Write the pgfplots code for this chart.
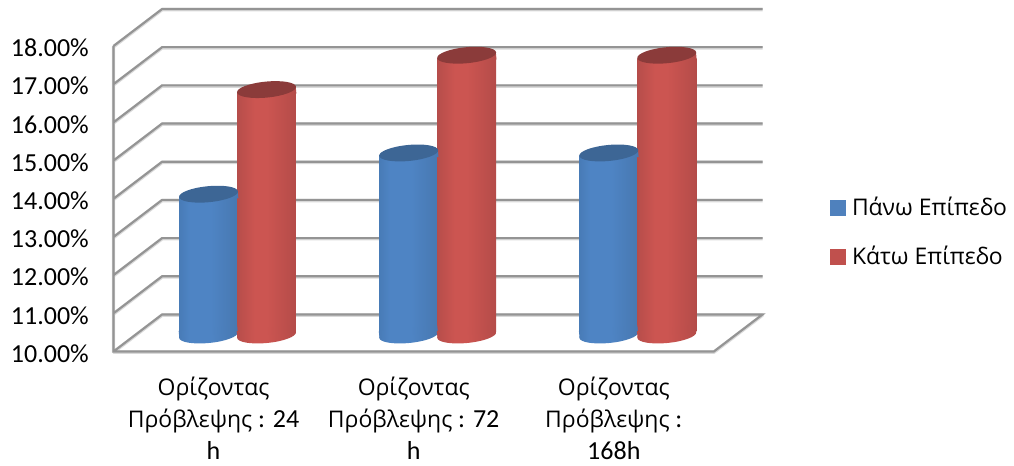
\documentclass[border=0pt]{standalone}
\usepackage{fontspec}
\setmainfont{Carlito}
\newfontfamily\grk{Open Sans}
\newcommand\gr[1]{{\grk\fontsize{17.2pt}{24pt}\selectfont #1}}
\usepackage{pgfplots}
\usepackage{pgfplotstable}
\usetikzlibrary{shapes.geometric}
\pgfplotsset{compat=1.18}

\definecolor{legblue}{HTML}{4F81BD}
\definecolor{legred}{HTML}{C0504D}
\definecolor{capblue}{HTML}{3D6695}
\definecolor{capred}{HTML}{8B3B3A}
\definecolor{b0}{HTML}{2B4F7B}
\definecolor{b1}{HTML}{4678B2}
\definecolor{b2}{HTML}{4E84C4}
\definecolor{b3}{HTML}{4675AC}
\definecolor{b4}{HTML}{2F5482}
\definecolor{r0}{HTML}{672827}
\definecolor{r1}{HTML}{863836}
\definecolor{r2}{HTML}{B84E4B}
\definecolor{r3}{HTML}{CC5551}
\definecolor{r4}{HTML}{B54C49}
\definecolor{r5}{HTML}{8F3F3D}

% Horizontal shadings that give the columns their round look
\pgfdeclarehorizontalshading{cylblue}{100bp}{
  color(0bp)=(b0); color(22bp)=(b1); color(34bp)=(b2); color(52bp)=(b2);
  color(80bp)=(b3); color(100bp)=(b4)}
\pgfdeclarehorizontalshading{cylred}{100bp}{
  color(0bp)=(r0); color(9bp)=(r1); color(26bp)=(r2); color(40bp)=(r3); color(50bp)=(r3);
  color(74bp)=(r4); color(90bp)=(r5); color(100bp)=(r0)}

\pgfplotsset{
  % one column body, shaded on its own
  column/.style n args={2}{ybar,bar width=44.2pt,bar shift=#2,draw=none,shade,shading=#1,forget plot},
  % tilted ellipse at a column's foot
  foot/.style n args={2}{only marks,mark=none,forget plot,nodes near coords={},
    every node near coord/.style={xshift=#2,yshift=-2.25pt,rotate=5.5,anchor=center,
      ellipse,inner sep=0pt,minimum width=44.4pt,minimum height=12pt,shade,shading=#1}},
  % strips that follow the tilt at both ends of a column
  footrim/.style n args={2}{only marks,mark=none,forget plot,nodes near coords={},
    every node near coord/.style={xshift=#2,yshift=-2.25pt,rotate=5.5,anchor=south,
      rectangle,inner sep=0pt,minimum width=44pt,minimum height=5pt,shade,shading=#1}},
  rim/.style n args={2}{only marks,mark=none,forget plot,nodes near coords={},
    every node near coord/.style={xshift=#2,yshift=2.25pt,rotate=5.5,anchor=north,
      rectangle,inner sep=0pt,minimum width=44pt,minimum height=5pt,shade,shading=#1}},
  % dark lid of a column
  lid/.style n args={2}{only marks,mark=none,forget plot,nodes near coords={},
    every node near coord/.style={xshift=#2,yshift=2.25pt,rotate=5.5,anchor=center,
      ellipse,inner sep=0pt,minimum width=44.4pt,minimum height=12pt,fill=#1}},
}

% Wall, side and floor lines of the box
\pgfplotstableread{
x y
-0.5 18
-0.5 10
2.5 10
2.743 10.97
-0.257 10.97
-0.5 10
nan nan
-0.5 11
-0.257 11.97
2.743 11.97
nan nan
-0.5 12
-0.257 12.97
2.743 12.97
nan nan
-0.5 13
-0.257 13.97
2.743 13.97
nan nan
-0.5 14
-0.257 14.97
2.743 14.97
nan nan
-0.5 15
-0.257 15.97
2.743 15.97
nan nan
-0.5 16
-0.257 16.97
2.743 16.97
nan nan
-0.5 17
-0.257 17.97
2.743 17.97
nan nan
-0.5 18
-0.257 18.97
2.743 18.97
}\frametable

\pgfplotstableread{
x upper lower
0 13.53 16.27
1 14.61 17.17
2 14.61 17.17
}\valuetable

\pgfplotstableread{
x y
0 10
1 10
2 10
}\basetable

\begin{document}
\begin{tikzpicture}
\useasboundingbox (0,0) rectangle (760.5pt,349.5pt);

\begin{axis}[
  at={(85.125pt,85.875pt)}, anchor=south west,
  scale only axis, width=486.75pt, height=256.875pt,
  xmin=-0.5, xmax=2.743, ymin=10, ymax=18.97,
  clip=false, axis line style={draw=none},
  major tick length=0pt, unbounded coords=jump,
  xtick={0,1,2},
  xticklabels={{\gr{Ορίζοντας}\\\gr{Πρόβλεψης} : 24\\h},{\gr{Ορίζοντας}\\\gr{Πρόβλεψης} : 72\\h},{\gr{Ορίζοντας}\\\gr{Πρόβλεψης} :\\168h}},
  xticklabel style={align=center,font=\fontsize{19.5pt}{24pt}\selectfont,yshift=-15.5pt},
  ytick={10,11,...,18},
  yticklabel={\pgfmathprintnumber[fixed,fixed zerofill,precision=2,assume math mode=true]{\tick}\%},
  yticklabel style={font=\fontsize{19.5pt}{23pt}\selectfont,xshift=-15pt,yshift=-1.5pt},
]
  \addplot[black!15,line width=2.6pt,line join=round,yshift=-0.5pt] table[x=x,y=y] {\frametable};
  \addplot[black!42,line width=1.6pt,line join=miter] table[x=x,y=y] {\frametable};
\end{axis}

\begin{axis}[
  at={(102.75pt,100.5pt)}, anchor=south west,
  scale only axis, width=486.75pt, height=256.875pt,
  xmin=-0.5, xmax=2.743, ymin=10, ymax=18.97,
  clip=false, hide axis,
  legend style={at={(1.0676,0.402)},anchor=north west,draw=none,fill=none,inner sep=0pt,
    font=\grk\fontsize{17.2pt}{19pt}\selectfont,row sep=17.5pt},
  legend cell align=left,
]
  \addlegendimage{legend image code/.code={\fill[legblue] (0pt,-5.6pt) rectangle (11.25pt,5.6pt); \path (14pt,0pt);}}
  \addlegendentry{Πάνω Επίπεδο}
  \addlegendimage{legend image code/.code={\fill[legred] (0pt,-5.6pt) rectangle (11.25pt,5.6pt); \path (14pt,0pt);}}
  \addlegendentry{Κάτω Επίπεδο}

  % upper level columns
  \addplot[foot={cylblue}{-21.4pt}] table[x=x,y=y] {\basetable};
  \addplot[footrim={cylblue}{-21.4pt}] table[x=x,y=y] {\basetable};
  \addplot[column={cylblue}{-21.4pt}] coordinates {(0,13.53)};
  \addplot[column={cylblue}{-21.4pt}] coordinates {(1,14.61)};
  \addplot[column={cylblue}{-21.4pt}] coordinates {(2,14.61)};
  \addplot[rim={cylblue}{-21.4pt}] table[x=x,y=upper] {\valuetable};
  \addplot[lid={capblue}{-21.4pt}] table[x=x,y=upper] {\valuetable};

  % lower level columns
  \addplot[foot={cylred}{22.1pt}] table[x=x,y=y] {\basetable};
  \addplot[footrim={cylred}{22.1pt}] table[x=x,y=y] {\basetable};
  \addplot[column={cylred}{22.1pt}] coordinates {(0,16.27)};
  \addplot[column={cylred}{22.1pt}] coordinates {(1,17.17)};
  \addplot[column={cylred}{22.1pt}] coordinates {(2,17.17)};
  \addplot[rim={cylred}{22.1pt}] table[x=x,y=lower] {\valuetable};
  \addplot[lid={capred}{22.1pt}] table[x=x,y=lower] {\valuetable};
\end{axis}
\end{tikzpicture}
\end{document}
